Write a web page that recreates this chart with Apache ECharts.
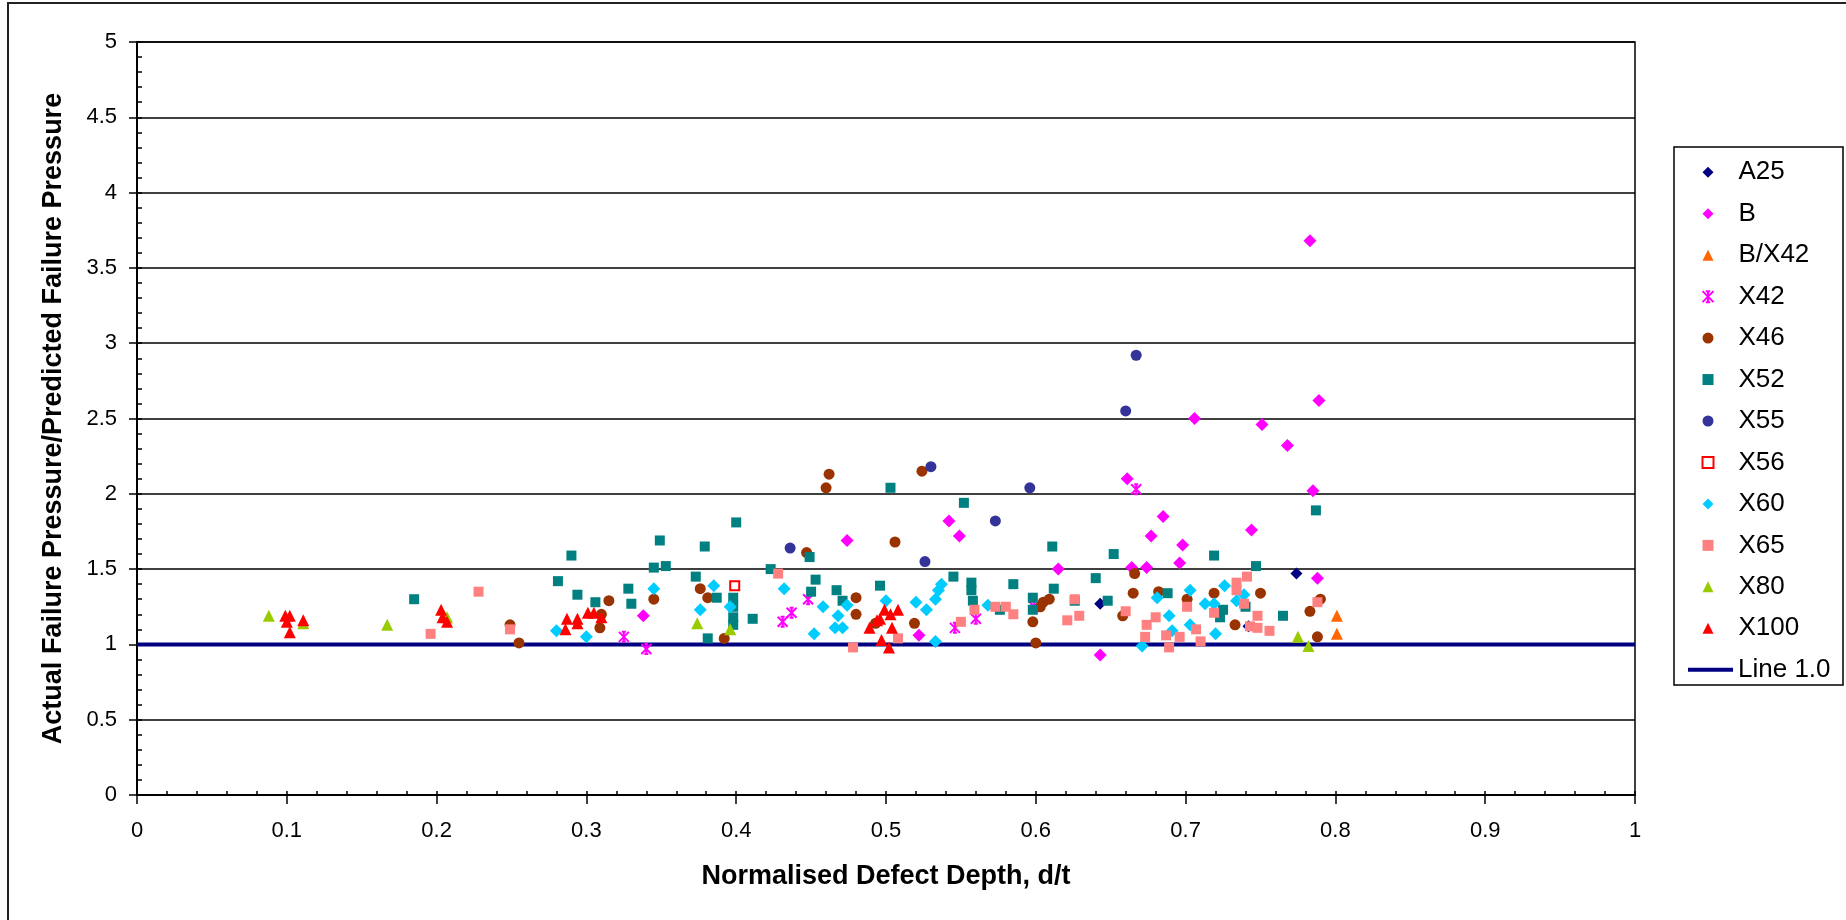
<!DOCTYPE html>
<html>
<head>
<meta charset="utf-8">
<script src="https://cdn.jsdelivr.net/npm/echarts@6/dist/echarts.min.js"></script>
<style>
html,body{margin:0;padding:0;background:#fff;}
#chart{width:1846px;height:920px;}
</style>
</head>
<body>
<div id="chart"></div>
<script>
// ---- Data (x = d/t, y = actual/predicted failure pressure) ----
const markerNames = ['A25','B','B/X42','X42','X46','X52','X55','X56','X60','X65','X80','X100'];
const lineNames = ['Line 1.0'];
const xTicks = [0,0.1,0.2,0.3,0.4,0.5,0.6,0.7,0.8,0.9,1];
const yTicks = [0,0.5,1,1.5,2,2.5,3,3.5,4,4.5,5];

const dataA25 = [[0.643,1.27],[0.774,1.47],[0.742,1.12]];
const dataB = [[0.338,1.19],[0.474,1.69],[0.522,1.06],[0.542,1.82],[0.549,1.72],[0.615,1.50],[0.643,0.93],[0.661,2.10],[0.664,1.51],[0.674,1.51],[0.677,1.72],[0.685,1.85],[0.696,1.54],[0.698,1.66],[0.706,2.50],[0.744,1.76],[0.751,2.46],[0.768,2.32],[0.783,3.68],[0.785,2.02],[0.788,1.44],[0.789,2.62]];
const dataBX42 = [[0.801,1.19],[0.801,1.07]];
const dataX42 = [[0.325,1.05],[0.340,0.97],[0.431,1.15],[0.437,1.21],[0.448,1.30],[0.546,1.11],[0.560,1.17],[0.599,1.25],[0.667,2.03]];
const dataX46 = [[0.249,1.13],[0.255,1.01],[0.309,1.11],[0.310,1.20],[0.315,1.29],[0.345,1.30],[0.376,1.37],[0.381,1.31],[0.392,1.04],[0.447,1.61],[0.460,2.04],[0.462,2.13],[0.480,1.31],[0.480,1.20],[0.493,1.14],[0.506,1.68],[0.519,1.14],[0.524,2.15],[0.598,1.15],[0.600,1.01],[0.603,1.25],[0.605,1.28],[0.609,1.30],[0.658,1.19],[0.665,1.34],[0.666,1.47],[0.682,1.35],[0.701,1.30],[0.719,1.34],[0.733,1.13],[0.750,1.34],[0.783,1.22],[0.790,1.30],[0.788,1.05]];
const dataX52 = [[0.185,1.30],[0.281,1.42],[0.290,1.59],[0.294,1.33],[0.306,1.28],[0.328,1.37],[0.330,1.27],[0.345,1.51],[0.349,1.69],[0.353,1.52],[0.373,1.45],[0.379,1.65],[0.381,1.04],[0.387,1.31],[0.398,1.31],[0.398,1.25],[0.398,1.18],[0.398,1.13],[0.400,1.81],[0.411,1.17],[0.423,1.50],[0.449,1.58],[0.453,1.43],[0.450,1.35],[0.467,1.36],[0.471,1.29],[0.496,1.39],[0.503,2.04],[0.545,1.45],[0.552,1.94],[0.557,1.41],[0.557,1.36],[0.558,1.29],[0.576,1.23],[0.585,1.40],[0.598,1.31],[0.598,1.23],[0.611,1.65],[0.612,1.37],[0.626,1.29],[0.640,1.44],[0.648,1.29],[0.652,1.60],[0.688,1.34],[0.719,1.59],[0.747,1.52],[0.725,1.23],[0.723,1.18],[0.740,1.25],[0.765,1.19],[0.787,1.89]];
const dataX55 = [[0.436,1.64],[0.526,1.55],[0.530,2.18],[0.573,1.82],[0.596,2.04],[0.660,2.55],[0.667,2.92]];
const dataX56 = [[0.399,1.39]];
const dataX60 = [[0.280,1.09],[0.300,1.05],[0.345,1.37],[0.376,1.23],[0.385,1.39],[0.396,1.25],[0.432,1.37],[0.452,1.07],[0.458,1.25],[0.468,1.19],[0.466,1.11],[0.471,1.11],[0.474,1.26],[0.500,1.29],[0.520,1.28],[0.527,1.23],[0.533,1.30],[0.535,1.36],[0.537,1.40],[0.533,1.02],[0.568,1.26],[0.671,0.99],[0.681,1.31],[0.689,1.19],[0.691,1.09],[0.703,1.36],[0.703,1.13],[0.713,1.27],[0.719,1.27],[0.726,1.39],[0.734,1.29],[0.739,1.33],[0.720,1.07]];
const dataX65 = [[0.196,1.07],[0.228,1.35],[0.249,1.10],[0.428,1.47],[0.478,0.98],[0.508,1.04],[0.550,1.15],[0.559,1.23],[0.573,1.25],[0.580,1.25],[0.585,1.20],[0.621,1.16],[0.626,1.30],[0.629,1.19],[0.660,1.22],[0.673,1.05],[0.674,1.13],[0.680,1.18],[0.687,1.06],[0.689,0.98],[0.696,1.05],[0.701,1.25],[0.707,1.10],[0.710,1.02],[0.719,1.21],[0.734,1.41],[0.734,1.36],[0.739,1.27],[0.741,1.45],[0.743,1.12],[0.748,1.19],[0.748,1.11],[0.756,1.09],[0.788,1.28]];
const dataX80 = [[0.088,1.19],[0.111,1.14],[0.167,1.13],[0.207,1.18],[0.374,1.14],[0.396,1.10],[0.775,1.05],[0.782,0.99]];
const dataX100 = [[0.099,1.19],[0.102,1.19],[0.100,1.15],[0.102,1.08],[0.111,1.16],[0.203,1.23],[0.204,1.18],[0.207,1.15],[0.287,1.17],[0.286,1.10],[0.294,1.17],[0.294,1.14],[0.301,1.21],[0.305,1.21],[0.310,1.18],[0.489,1.11],[0.494,1.16],[0.499,1.23],[0.503,1.20],[0.508,1.23],[0.504,1.11],[0.497,1.03],[0.502,0.98],[0.496,1.17]];
const dataLine = [[0,1],[1,1]];

const FONT = 'Liberation Sans, Arial, sans-serif';
const starPath = 'path://M0,0L10,10M10,0L0,10M5,0L5,10M3,0L7,0M3,10L7,10';

function sc(name, data, symbol, size, color, extra) {
  return Object.assign({
    name: name, type: 'scatter', data: data, symbol: symbol, symbolSize: size,
    itemStyle: { color: color, opacity: 1 }, emphasis: { disabled: true }, z: 3
  }, extra || {});
}

const legendText = { fontFamily: FONT, fontSize: 26, color: '#000', lineHeight: 26 };
const lineLegendData = lineNames.map(function (n) {
  return { name: n, icon: 'path://M0,0L45,0L45,4L0,4Z', itemStyle: { color: '#000080', borderWidth: 0 } };
});

const chart = echarts.init(document.getElementById('chart'), null, { renderer: 'canvas' });
chart.setOption({
  animation: false,
  backgroundColor: '#fff',
  textStyle: { fontFamily: FONT },
  graphic: [{
    type: 'rect', shape: { x: 8, y: 3, width: 1900, height: 1000 },
    style: { fill: 'none', stroke: '#222', lineWidth: 2 }, silent: true, z: -1
  }, {
    type: 'rect', shape: { x: 1674, y: 147, width: 169, height: 538 },
    style: { fill: '#fff', stroke: '#000', lineWidth: 1.5 }, silent: true, z: 0
  }],
  grid: {
    left: 137, top: 42, width: 1498, height: 753,
    show: true, borderColor: '#000', borderWidth: 1.5, backgroundColor: 'transparent'
  },
  legend: [{
    orient: 'vertical', left: 1701.5, top: 159.3,
    data: markerNames,
    itemWidth: 11, itemHeight: 11, itemGap: 15.45,
    padding: 0, z: 5,
    textStyle: Object.assign({ padding: [0, 0, 0, 20] }, legendText),
    selectedMode: false
  }, {
    orient: 'vertical', left: 1688, top: 656.8,
    data: lineLegendData,
    itemWidth: 45, itemHeight: 4,
    padding: 0, z: 5,
    textStyle: legendText,
    selectedMode: false
  }],
  xAxis: [{
    type: 'value', min: 0, max: 1, interval: 0.1, position: 'bottom',
    name: 'Normalised Defect Depth, d/t', nameLocation: 'middle', nameGap: 68,
    nameTextStyle: { fontFamily: FONT, fontSize: 27, fontWeight: 'bold', color: '#000' },
    axisLine: { lineStyle: { color: '#000', width: 2 } },
    axisTick: { inside: false, length: 9, lineStyle: { color: '#000', width: 1.5 } },
    axisLabel: { margin: 25, fontFamily: FONT, fontSize: 22, color: '#000',
      formatter: function (v) { const r = Math.round(v * 10) / 10; return xTicks.indexOf(r) >= 0 ? String(r) : ''; } },
    splitLine: { show: false }
  }, {
    type: 'value', min: 0, max: 1, interval: 0.02, position: 'bottom',
    axisLine: { show: false },
    axisTick: { inside: true, length: 4, lineStyle: { color: '#000', width: 1.5 } },
    axisLabel: { show: false }, splitLine: { show: false }
  }],
  yAxis: [{
    type: 'value', min: 0, max: 5, interval: 0.5, position: 'left',
    name: 'Actual Failure Pressure/Predicted Failure Pressure', nameLocation: 'middle', nameGap: 70,
    nameTextStyle: { fontFamily: FONT, fontSize: 27, fontWeight: 'bold', color: '#000' },
    axisLine: { show: true, lineStyle: { color: '#000', width: 2 } },
    axisTick: { show: true, inside: false, length: 8, lineStyle: { color: '#000', width: 1.5 } },
    axisLabel: { margin: 20, fontFamily: FONT, fontSize: 22, color: '#000',
      formatter: function (v) { const r = Math.round(v * 2) / 2; return yTicks.indexOf(r) >= 0 ? String(r) : ''; } },
    splitLine: { show: true, lineStyle: { color: '#000', width: 1.5 } }
  }, {
    type: 'value', min: 0, max: 5, interval: 0.1, position: 'left',
    axisLine: { show: false },
    axisTick: { show: true, inside: true, length: 5, lineStyle: { color: '#000', width: 1.5 } },
    axisLabel: { show: false }, splitLine: { show: false }
  }],
  series: [
    sc('A25', dataA25, 'diamond', 12, '#000080'),
    sc('B', dataB, 'diamond', 13, '#FF00FF'),
    sc('B/X42', dataBX42, 'triangle', 12, '#FF6600'),
    sc('X42', dataX42, starPath, 10, '#FF00FF', { itemStyle: { color: 'rgba(0,0,0,0)', borderColor: '#FF00FF', borderWidth: 2, opacity: 1 } }),
    sc('X46', dataX46, 'circle', 11, '#993300'),
    sc('X52', dataX52, 'rect', 10, '#008080'),
    sc('X55', dataX55, 'circle', 11, '#333399'),
    sc('X56', dataX56, 'rect', 9, '#FFFFFF', { itemStyle: { color: '#FFFFFF', borderColor: '#FF0000', borderWidth: 2, opacity: 1 } }),
    sc('X60', dataX60, 'diamond', 13, '#00CCFF'),
    sc('X65', dataX65, 'rect', 10, '#FF8080'),
    sc('X80', dataX80, 'triangle', 12, '#99CC00'),
    sc('X100', dataX100, 'triangle', 12, '#FF0000'),
    {
      name: 'Line 1.0', type: 'line', data: dataLine, symbol: 'none',
      lineStyle: { color: '#000080', width: 4 }, itemStyle: { color: '#000080' },
      emphasis: { disabled: true }, z: 2
    }
  ]
});
</script>
</body>
</html>
